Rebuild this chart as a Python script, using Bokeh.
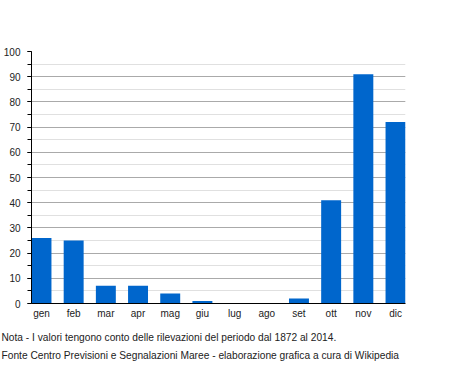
from bokeh.plotting import figure
from bokeh.models import Range1d, FactorRange, SingleIntervalTicker, Title, ColumnDataSource
from bokeh.embed import file_html
from bokeh.resources import INLINE

months = ["gen", "feb", "mar", "apr", "mag", "giu", "lug", "ago", "set", "ott", "nov", "dic"]
values = [26, 25, 7, 7, 4, 1, 0, 0, 2, 41, 91, 72]
y_ticks_interval = 10
note_line1 = "Nota - I valori tengono conto delle rilevazioni del periodo dal 1872 al 2014."
note_line2 = "Fonte Centro Previsioni e Segnalazioni Maree - elaborazione grafica a cura di Wikipedia"

FONT = "Liberation Sans"
BAR_W = 0.62

p = figure(
    width=455, height=370,
    x_range=FactorRange(*months, range_padding=-(1 - BAR_W) / 2, range_padding_units="absolute"),
    y_range=Range1d(0, 100),
    output_backend="svg", toolbar_location=None,
    min_border_left=0, min_border_right=50, min_border_top=51, min_border_bottom=67,
)
p.outline_line_color = None
p.background_fill_color = "white"
p.border_fill_color = "white"

src = ColumnDataSource(data=dict(month=months, value=values))
p.vbar(x="month", top="value", width=BAR_W, source=src, color="#0066cc", line_color=None)

p.yaxis.ticker = SingleIntervalTicker(interval=y_ticks_interval, num_minor_ticks=2)
p.yaxis.axis_line_color = "black"
p.yaxis.major_tick_in = 0
p.yaxis.major_tick_out = 4
p.yaxis.minor_tick_in = 0
p.yaxis.minor_tick_out = 4
p.yaxis.major_tick_line_color = "black"
p.yaxis.minor_tick_line_color = "black"
p.yaxis.major_label_standoff = 7
p.yaxis.major_label_text_font = FONT
p.yaxis.major_label_text_font_size = "10px"
p.yaxis.major_label_text_color = "#222222"

p.xaxis.axis_line_color = "black"
p.xaxis.major_tick_line_color = None
p.xaxis.minor_tick_line_color = None
p.xaxis.major_tick_out = 0
p.xaxis.major_tick_in = 0
p.xaxis.major_label_standoff = 4
p.xaxis.major_label_text_font = FONT
p.xaxis.major_label_text_font_size = "10px"
p.xaxis.major_label_text_color = "#222222"

p.xgrid.grid_line_color = None
p.ygrid.grid_line_color = "#aaaaaa"
p.ygrid.minor_grid_line_color = "#e0e0e0"

t1 = Title(text=note_line1, align="left", offset=-30, text_font=FONT,
           text_font_size="10.2px", text_font_style="normal", text_color="#222222", standoff=16)
t2 = Title(text=note_line2, align="left", offset=-30, text_font=FONT,
           text_font_size="10.2px", text_font_style="normal", text_color="#222222", standoff=-5)
p.add_layout(t1, "below")
p.add_layout(t2, "below")

open("out.html", "w").write(file_html(p, INLINE))
